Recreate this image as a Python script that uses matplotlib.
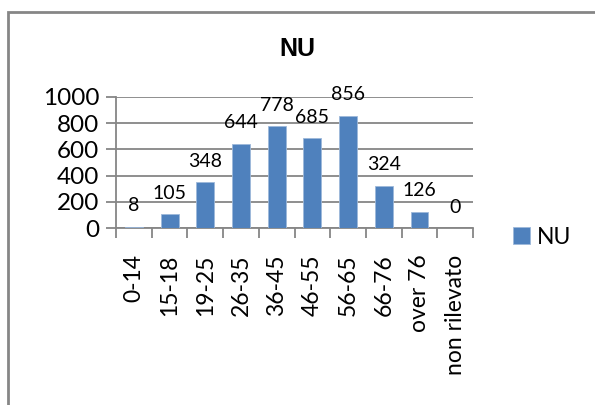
import numpy as np
import matplotlib
matplotlib.use("Agg")
import matplotlib.pyplot as plt
from matplotlib.patches import Rectangle

plt.rcParams["font.family"] = ["Lato", "DejaVu Sans"]

categories = ["0-14", "15-18", "19-25", "26-35", "36-45", "46-55",
              "56-65", "66-76", "over 76", "non rilevato"]
values = [8, 105, 348, 644, 778, 685, 856, 324, 126, 0]
series_name = "NU"
y_ticks = [0, 200, 400, 600, 800, 1000]

BAR = "#4F81BD"
GRID = "#868686"

fig = plt.figure(figsize=(5.95, 4.05), dpi=100)
ax = fig.add_axes([0.195, 0.437, 0.6, 0.3235])

x = np.arange(len(categories))
bars = ax.bar(x, values, width=0.5, color=BAR, edgecolor="#9DB8DA",
              linewidth=0.6, label=series_name, zorder=3)
ax.bar_label(bars, labels=[str(v) for v in values], padding=9,
             fontsize=14, color="black")

ax.set_xlim(-0.5, len(categories) - 0.5)
ax.set_ylim(0, 1000)
ax.set_yticks(y_ticks)
ax.set_yticklabels([str(v) for v in y_ticks], fontsize=17.5)
ax.yaxis.grid(True, color=GRID, linewidth=1.3, zorder=0)

# category labels at bar centres, tick marks between categories
ax.set_xticks(x)
ax.set_xticklabels(categories, rotation=90, fontsize=16.5)
ax.tick_params(axis="x", length=0, pad=19)
ax.set_xticks(np.arange(len(categories) + 1) - 0.5, minor=True)
ax.tick_params(axis="x", which="minor", length=7, width=1.3, color=GRID)
ax.tick_params(axis="y", length=7, width=1.3, color=GRID, pad=5)

for side in ("top", "right"):
    ax.spines[side].set_visible(False)
for side in ("left", "bottom"):
    ax.spines[side].set_color(GRID)
    ax.spines[side].set_linewidth(1.3)

fig.text(0.5, 0.878, "NU", ha="center", va="center",
         fontsize=18, fontweight="bold",
         family=["Liberation Sans", "DejaVu Sans"])

ax.legend(loc="center left", bbox_to_anchor=(1.085, -0.07), frameon=False,
          fontsize=16.5, handlelength=0.75, handleheight=0.75,
          handletextpad=0.3, borderaxespad=0)

# outer chart frame, clipped at the right and bottom edges
fig.patches.append(Rectangle((8 / 595, -0.1), 1.2, 1.1 - 12 / 405,
                             transform=fig.transFigure, fill=False,
                             edgecolor=GRID, linewidth=2))

fig.savefig("out.png", dpi=100)
